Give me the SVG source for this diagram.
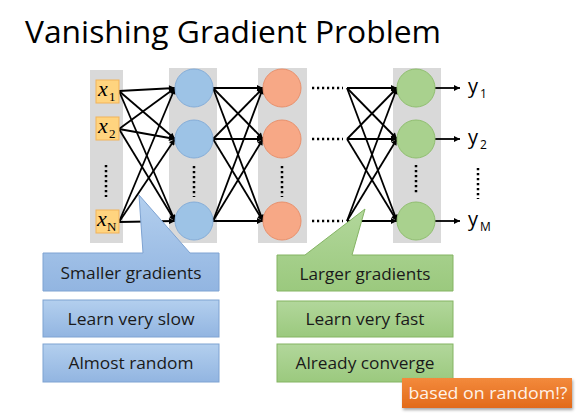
<svg xmlns="http://www.w3.org/2000/svg" width="577" height="415" viewBox="0 0 577 415">
<defs>
<marker id="ah" viewBox="0 0 10 10" refX="10" refY="5" markerWidth="7" markerHeight="6" markerUnits="userSpaceOnUse" orient="auto"><path d="M0,0 L10,5 L0,10 Z" fill="#000"/></marker>
<linearGradient id="gb" x1="0" y1="0" x2="0" y2="1"><stop offset="0" stop-color="#B3CFEE"/><stop offset="1" stop-color="#92B5E1"/></linearGradient>
<linearGradient id="gg" x1="0" y1="0" x2="0" y2="1"><stop offset="0" stop-color="#B2D79B"/><stop offset="1" stop-color="#9BC97E"/></linearGradient>
<linearGradient id="go" x1="0" y1="0" x2="0" y2="1"><stop offset="0" stop-color="#F38A3C"/><stop offset="1" stop-color="#E26A1A"/></linearGradient>
<filter id="sh" x="-10%" y="-20%" width="130%" height="150%"><feDropShadow dx="1" dy="2" stdDeviation="1.5" flood-color="#000" flood-opacity="0.35"/></filter>
</defs>
<style>
.col{fill:#D9D9D9}
.in{fill:#FFD47F;stroke:#F2B35A;stroke-width:1}
.xl{font-family:"Liberation Serif",serif;font-style:italic;font-size:22px;fill:#000}
.xs{font-family:"Liberation Serif",serif;font-size:13px;fill:#000}
.cb{fill:#9DC3E6;stroke:#85ADD8;stroke-width:1}
.co{fill:#F7A886;stroke:#E8906C;stroke-width:1}
.cg{fill:#A9D18E;stroke:#90BE70;stroke-width:1}
.vd{stroke:#000;stroke-width:2.5;stroke-dasharray:2.2 2.8;fill:none}
.cn line{stroke:#000;stroke-width:1.8;marker-end:url(#ah)}
.yl{font-family:"Open Sans",sans-serif;font-size:20px;fill:#000}
.ys{font-family:"Open Sans",sans-serif;font-size:12px;fill:#000}
.bl{font-family:"Open Sans",sans-serif;font-size:17px;fill:#1a1a1a;text-anchor:middle}
.bb{fill:url(#gb);stroke:#7EA3D2;stroke-width:1}
.bg{fill:url(#gg);stroke:#84B463;stroke-width:1}
</style>
<rect width="577" height="415" fill="#fff"/>
<text x="25" y="43" font-family="Open Sans, sans-serif" font-size="31" fill="#000" textLength="416" lengthAdjust="spacingAndGlyphs">Vanishing Gradient Problem</text>

<g id="columns">
<rect class="col" x="90" y="70" width="33" height="173"/>
<rect class="col" x="169" y="68" width="48" height="175"/>
<rect class="col" x="258" y="68" width="49" height="175"/>
<rect class="col" x="393" y="68" width="48" height="175"/>
</g>

<g id="connectors" class="cn">
<line x1="119" y1="91" x2="175" y2="88"/>
<line x1="119" y1="91" x2="175" y2="139"/>
<line x1="119" y1="91" x2="175" y2="221"/>
<line x1="119" y1="129" x2="175" y2="88"/>
<line x1="119" y1="129" x2="175" y2="139"/>
<line x1="119" y1="129" x2="175" y2="221"/>
<line x1="119" y1="222" x2="175" y2="88"/>
<line x1="119" y1="222" x2="175" y2="139"/>
<line x1="119" y1="222" x2="175" y2="221"/>
<line x1="213" y1="88" x2="263" y2="88"/>
<line x1="213" y1="88" x2="263" y2="139"/>
<line x1="213" y1="88" x2="263" y2="221"/>
<line x1="213" y1="139" x2="263" y2="88"/>
<line x1="213" y1="139" x2="263" y2="139"/>
<line x1="213" y1="139" x2="263" y2="221"/>
<line x1="213" y1="221" x2="263" y2="88"/>
<line x1="213" y1="221" x2="263" y2="139"/>
<line x1="213" y1="221" x2="263" y2="221"/>
<line x1="347" y1="88" x2="397" y2="88"/>
<line x1="347" y1="88" x2="397" y2="139"/>
<line x1="347" y1="88" x2="397" y2="221"/>
<line x1="347" y1="139" x2="397" y2="88"/>
<line x1="347" y1="139" x2="397" y2="139"/>
<line x1="347" y1="139" x2="397" y2="221"/>
<line x1="347" y1="221" x2="397" y2="88"/>
<line x1="347" y1="221" x2="397" y2="139"/>
<line x1="347" y1="221" x2="397" y2="221"/>
<line x1="435" y1="88" x2="460" y2="88"/>
<line x1="435" y1="139" x2="460" y2="139"/>
<line x1="435" y1="221" x2="460" y2="221"/>
</g>

<g id="inputs">
<g id="x1"><rect class="in" x="96" y="80" width="23" height="23"/><text class="xl" x="98" y="96">x</text><text class="xs" x="109" y="101">1</text></g>
<g id="x2"><rect class="in" x="96" y="117" width="23" height="23"/><text class="xl" x="98" y="133">x</text><text class="xs" x="109" y="138">2</text></g>
<g id="xN"><rect class="in" x="96" y="210" width="23" height="23"/><text class="xl" x="97" y="226">x</text><text class="xs" x="107" y="231">N</text></g>
<line class="vd" x1="106" y1="165" x2="106" y2="197"/>
</g>

<g id="layer1">
<circle class="cb" cx="194" cy="88" r="19"/>
<circle class="cb" cx="194" cy="139" r="19"/>
<circle class="cb" cx="194" cy="221" r="19"/>
<line class="vd" x1="194" y1="166" x2="194" y2="197"/>
</g>
<g id="layer2">
<circle class="co" cx="282" cy="88" r="19"/>
<circle class="co" cx="282" cy="139" r="19"/>
<circle class="co" cx="282" cy="221" r="19"/>
<line class="vd" x1="282" y1="166" x2="282" y2="197"/>
</g>
<g id="hdots">
<line class="vd" x1="312" y1="88" x2="343" y2="88"/>
<line class="vd" x1="312" y1="139" x2="343" y2="139"/>
<line class="vd" x1="312" y1="221" x2="343" y2="221"/>
</g>
<g id="output">
<circle class="cg" cx="416" cy="88" r="19"/>
<circle class="cg" cx="416" cy="139" r="19"/>
<circle class="cg" cx="416" cy="221" r="19"/>
<line class="vd" x1="416" y1="165" x2="416" y2="195"/>
</g>
<g id="ylabels">
<text class="yl" x="468" y="93">y</text><text class="ys" x="480" y="98">1</text>
<text class="yl" x="468" y="144">y</text><text class="ys" x="480" y="149">2</text>
<text class="yl" x="468" y="226">y</text><text class="ys" x="480" y="231">M</text>
<line class="vd" x1="478" y1="168" x2="478" y2="199"/>
</g>

<g id="smaller">
<path class="bb" d="M43,253 L143,253 L139,195 L190,253 L219,253 L219,291 L43,291 Z"/>
<text class="bl" x="131" y="279" textLength="141" lengthAdjust="spacingAndGlyphs">Smaller gradients</text>
</g>
<g id="slow">
<rect class="bb" x="43" y="300" width="176" height="37"/>
<text class="bl" x="131" y="324.5" textLength="127" lengthAdjust="spacingAndGlyphs">Learn very slow</text>
</g>
<g id="random">
<rect class="bb" x="43" y="344" width="176" height="38"/>
<text class="bl" x="131" y="369" textLength="125" lengthAdjust="spacingAndGlyphs">Almost random</text>
</g>
<g id="larger">
<path class="bg" d="M277,255 L305,255 L365,209 L352,255 L453,255 L453,291 L277,291 Z"/>
<text class="bl" x="365" y="279.5" textLength="131" lengthAdjust="spacingAndGlyphs">Larger gradients</text>
</g>
<g id="fast">
<rect class="bg" x="277" y="301" width="176" height="36"/>
<text class="bl" x="365" y="325" textLength="119" lengthAdjust="spacingAndGlyphs">Learn very fast</text>
</g>
<g id="converge">
<rect class="bg" x="277" y="344" width="176" height="38"/>
<text class="bl" x="365" y="369" textLength="139" lengthAdjust="spacingAndGlyphs">Already converge</text>
</g>
<g id="basedon">
<rect x="402" y="378" width="170" height="30" fill="url(#go)" filter="url(#sh)"/>
<text x="488" y="399" font-family="Open Sans, sans-serif" font-size="17" fill="#FFF2E8" text-anchor="middle" textLength="159" lengthAdjust="spacingAndGlyphs">based on random!?</text>
</g>
</svg>
